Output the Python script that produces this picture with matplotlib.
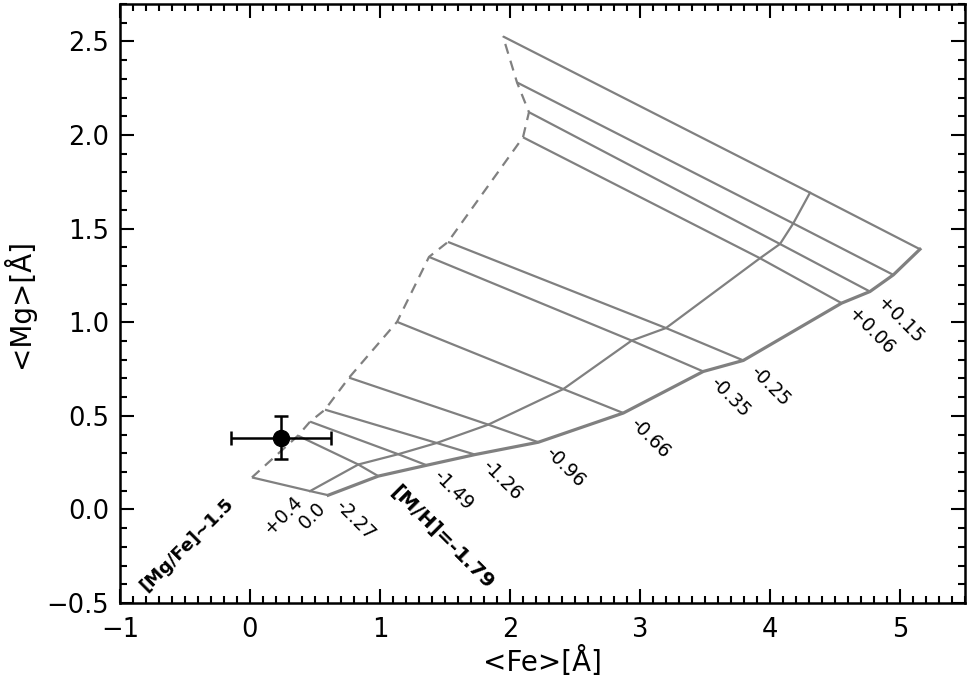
import matplotlib
matplotlib.use("Agg")
import matplotlib.pyplot as plt
from matplotlib.ticker import MultipleLocator

# ---- data ----
mh_labels = ["-2.27", "-1.79", "-1.49", "-1.26", "-0.96", "-0.66",
             "-0.35", "-0.25", "+0.06", "+0.15", "", ""]

# [Mg/Fe] ~ 1.5 model curve (dashed)
fe_hi = [0.015, 0.369, 0.462, 0.577, 0.762, 1.131, 1.377, 1.523, 2.100, 2.146, 2.054, 1.946]
mg_hi = [0.171, 0.394, 0.469, 0.533, 0.704, 1.002, 1.349, 1.429, 1.988, 2.122, 2.281, 2.527]

# [Mg/Fe] = +0.4 model curve
fe_mid = [0.462, 0.833, 1.140, 1.436, 1.833, 2.410, 2.936, 3.200, 3.923, 4.077, 4.179, 4.308]
mg_mid = [0.098, 0.240, 0.295, 0.355, 0.453, 0.643, 0.902, 0.969, 1.342, 1.418, 1.528, 1.692]

# [Mg/Fe] = 0.0 model curve (thick)
fe_lo = [0.602, 0.987, 1.359, 1.731, 2.218, 2.872, 3.487, 3.795, 4.551, 4.769, 4.949, 5.154]
mg_lo = [0.076, 0.178, 0.236, 0.293, 0.359, 0.515, 0.737, 0.796, 1.102, 1.164, 1.253, 1.390]

# observed point
obs_fe, obs_fe_err = 0.238, 0.385
obs_mg, obs_mg_err = 0.384, 0.115

grey = "#808080"

fig = plt.figure(figsize=(9.67, 6.80), dpi=100)
ax = fig.add_axes([0.1241, 0.1132, 0.8738, 0.8809])

# iso-[M/H] lines
for i in range(len(fe_hi)):
    ax.plot([fe_hi[i], fe_mid[i], fe_lo[i]], [mg_hi[i], mg_mid[i], mg_lo[i]],
            color=grey, lw=1.6, solid_capstyle="butt")

# iso-[Mg/Fe] curves
ax.plot(fe_hi, mg_hi, color=grey, lw=1.6, linestyle=(0, (4.6, 3.3)))
ax.plot(fe_mid, mg_mid, color=grey, lw=1.6)
ax.plot(fe_lo, mg_lo, color=grey, lw=2.3)

# [M/H] labels along the [Mg/Fe]=0.0 curve
for i, lab in enumerate(mh_labels):
    if not lab:
        continue
    if i == 1:
        ax.annotate("[M/H]=" + lab, (fe_lo[i], mg_lo[i]), xytext=(11, -9),
                    textcoords="offset points", rotation=-45,
                    rotation_mode="anchor", ha="left", va="center",
                    fontsize=14.5, fontweight="bold")
    else:
        ax.annotate(lab, (fe_lo[i], mg_lo[i]), xytext=(7, -6),
                    textcoords="offset points", rotation=-45,
                    rotation_mode="anchor", ha="left", va="center",
                    fontsize=13.5)

# [Mg/Fe] labels
ax.annotate("+0.4", (fe_mid[0], mg_mid[0]), xytext=(-8, -6),
            textcoords="offset points", rotation=45, rotation_mode="anchor",
            ha="right", va="center", fontsize=13.5)
ax.annotate("0.0", (fe_lo[0], mg_lo[0]), xytext=(-4, -7),
            textcoords="offset points", rotation=45, rotation_mode="anchor",
            ha="right", va="center", fontsize=13.5)
ax.annotate("[Mg/Fe]~1.5", (fe_hi[0], mg_hi[0]), xytext=(-15, -17),
            textcoords="offset points", rotation=45, rotation_mode="anchor",
            ha="right", va="center", fontsize=13, fontweight="bold")

# observation
ax.errorbar([obs_fe], [obs_mg], xerr=[obs_fe_err], yerr=[obs_mg_err],
            fmt="o", color="black", ms=11.5, elinewidth=1.8, capsize=5,
            capthick=1.8, zorder=5)

ax.set_xlim(-1, 5.5)
ax.set_ylim(-0.5, 2.7)
ax.xaxis.set_major_locator(MultipleLocator(1))
ax.xaxis.set_minor_locator(MultipleLocator(0.1))
ax.yaxis.set_major_locator(MultipleLocator(0.5))
ax.yaxis.set_minor_locator(MultipleLocator(0.1))
ax.tick_params(which="both", direction="in", top=True, right=True, width=1.5)
ax.tick_params(which="major", length=10, labelsize=18.5)
ax.tick_params(which="minor", length=5)
ax.tick_params(axis="x", which="major", pad=10)
ax.tick_params(axis="y", which="major", pad=8)
for sp in ax.spines.values():
    sp.set_linewidth(1.8)

ax.set_xlabel("<Fe>[Å]", fontsize=20, labelpad=2)
ax.set_ylabel("<Mg>[Å]", fontsize=20, labelpad=8)

fig.savefig("out.png", dpi=100)
